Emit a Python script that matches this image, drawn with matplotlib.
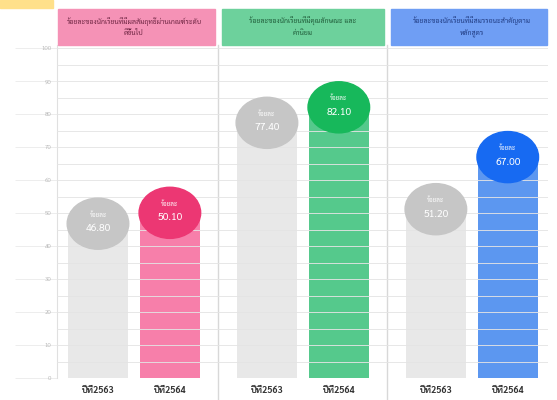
import matplotlib
matplotlib.use('Agg')
import matplotlib.pyplot as plt
from matplotlib.patches import Ellipse, Rectangle
import matplotlib.transforms as mtransforms

plt.rcParams['font.family'] = ['Sarabun', 'Noto Sans Thai', 'DejaVu Sans']

# data
headers = ['ร้อยละของนักเรียนที่มีผลสัมฤทธิ์ผ่านเกณฑ์ระดับ\nดีขึ้นไป',
           'ร้อยละของนักเรียนที่มีคุณลักษณะ และ\nค่านิยม',
           'ร้อยละของนักเรียนที่มีสมรรถนะสำคัญตาม\nหลักสูตร']
years = ['ปีที่2563', 'ปีที่2564']
prev_values = [46.8, 77.4, 51.2]
curr_values = [50.1, 82.1, 67.0]
y_ticks = [0, 10, 20, 30, 40, 50, 60, 70, 80, 90, 100]

header_colors = ['#F592B6', '#6DD19C', '#6F9EF4']
header_text_colors = ['#6B2340', '#1F5A38', '#1F3A80']
bar_colors = ['#F77FAA', '#55C98C', '#5C97F0']
bubble_colors = ['#EC3773', '#17B85B', '#176AF2']
gray_bar = '#E8E8E8'
gray_bubble = '#C6C6C6'

fig = plt.figure(figsize=(5.57, 4), dpi=100)
ax = fig.add_axes([57 / 557, 22 / 400, 491 / 557, 333 / 400])

group_gap = 2.35
bar_w = 0.84
ax.set_xlim(-1.07, 2 * group_gap + 1.06)
ax.set_ylim(0, 101)

# light grid lines
for v in range(5, 101, 5):
    ax.axhline(v, color='#E4E4E4', lw=0.7, zorder=3, alpha=0.9)

trans = mtransforms.blended_transform_factory(ax.transData, ax.transAxes)

for g in range(3):
    c = g * group_gap
    x0, x1 = c - 0.5, c + 0.5
    ax.bar(x0, prev_values[g], width=bar_w, color=gray_bar, zorder=2)
    ax.bar(x1, curr_values[g], width=bar_w, color=bar_colors[g], zorder=2)
    for x, v, col in [(x0, prev_values[g], gray_bubble), (x1, curr_values[g], bubble_colors[g])]:
        ax.add_patch(Ellipse((x, v), bar_w * 1.02, 15.5, color=col, zorder=4))
        ax.text(x, v + 2.8, 'ร้อยละ', color='white', fontsize=4.5,
                ha='center', va='center', zorder=5)
        ax.text(x, v - 1.5, '%.2f' % v, color='white', fontsize=7.5,
                ha='center', va='center', zorder=5)
    # x labels
    for x, lab in zip([x0, x1], years):
        ax.text(x, -2.5, lab, ha='center', va='top', fontsize=6.5,
                fontweight='bold', color='#333333', clip_on=False)

    # header boxes
    left = c - 1.07 if g == 0 else c - 1.15
    right = c + 1.15 if g < 2 else c + 1.06
    ax.add_patch(Rectangle((left + 0.02, 1.0), right - left - 0.04, 0.108,
                           transform=trans, color=header_colors[g], clip_on=False, zorder=5))
    ax.text(c, 1.054, headers[g], transform=trans, ha='center', va='center',
            fontsize=5, color=header_text_colors[g], linespacing=1.6, zorder=6)

    if g < 2:
        ax.axvline(c + 1.175, ymin=-0.08, ymax=1.0, color='#D8D8D8', lw=1,
                   clip_on=False, zorder=1)

ax.set_xticks([])
ax.set_yticks(y_ticks)
ax.set_yticklabels([str(v) for v in y_ticks], fontsize=4.5, color='#BBBBBB')
ax.tick_params(axis='y', length=30, color='#EDEDED', width=0.7, pad=-26)
for s in ['top', 'right', 'bottom']:
    ax.spines[s].set_visible(False)
ax.spines['left'].set_color('#E0E0E0')

# yellow tab at top-left
fig.patches.append(Rectangle((0, 392 / 400), 53 / 557, 8 / 400,
                             transform=fig.transFigure, color='#FFE08A'))

fig.savefig('out.png')
